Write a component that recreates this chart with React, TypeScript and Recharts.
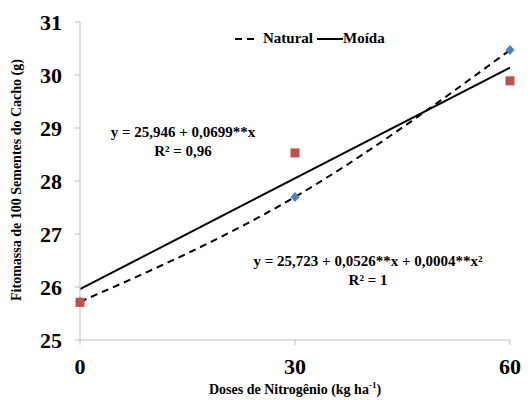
import React from 'react';
import { ComposedChart, Line, XAxis, YAxis } from 'recharts';

const doses = [0, 30, 60];
const natural = [25.72, 27.7, 30.47];
const moida = [25.71, 28.53, 29.89];
const moidaFit = [25.96, null, 30.14];
const xTicks = [0, 30, 60];
const yTicks = [25, 26, 27, 28, 29, 30, 31];

const data = doses.map((d, i) => ({
    dose: d,
    natural: natural[i],
    moida: moida[i],
    moidaFit: moidaFit[i],
}));

const FONT = '"Liberation Serif", "Times New Roman", serif';
const axisColor = '#bfbfbf';

const Diamond = (props: any) => {
    const { cx, cy, index } = props;
    if (cx == null || cy == null) return <g key={`d-${index}`} />;
    return (
        <path
            key={`d-${index}`}
            d={`M${cx},${cy - 5} L${cx + 4.5},${cy} L${cx},${cy + 5} L${cx - 4.5},${cy} Z`}
            fill="#4F81BD"
        />
    );
};

const Square = (props: any) => {
    const { cx, cy, index } = props;
    if (cx == null || cy == null) return <g key={`s-${index}`} />;
    return <rect key={`s-${index}`} x={cx - 4.5} y={cy - 4.5} width={9} height={9} fill="#C0504D" />;
};

const eqStyle: React.CSSProperties = {
    position: 'absolute',
    fontFamily: FONT,
    fontWeight: 'bold',
    fontSize: 15,
    color: '#000',
    textAlign: 'center',
    lineHeight: '19px',
    whiteSpace: 'nowrap',
    transform: 'translateX(-50%)',
};

const App: React.FC = () => {
    return (
        <div style={{ position: 'absolute', left: 0, top: 0, width: 531, height: 400, background: '#fff' }}>
            <ComposedChart
                width={531}
                height={400}
                data={data}
                margin={{ top: 22, right: 21, bottom: 10, left: 10 }}
            >
                <XAxis
                    dataKey="dose"
                    type="number"
                    domain={[0, 60]}
                    ticks={xTicks}
                    height={50}
                    stroke={axisColor}
                    tickSize={5}
                    tickMargin={13}
                    tick={{ fill: '#000', fontSize: 22, fontWeight: 'bold', fontFamily: FONT }}
                />
                <YAxis
                    type="number"
                    domain={[25, 31]}
                    ticks={yTicks}
                    width={70}
                    stroke={axisColor}
                    tickSize={5}
                    tickMargin={13}
                    tick={{ fill: '#000', fontSize: 22, fontWeight: 'bold', fontFamily: FONT }}
                />
                <Line
                    dataKey="moidaFit"
                    type="linear"
                    stroke="#000"
                    strokeWidth={2}
                    dot={false}
                    connectNulls
                    isAnimationActive={false}
                />
                <Line
                    dataKey="natural"
                    type="natural"
                    stroke="#000"
                    strokeWidth={2}
                    strokeDasharray="7 5"
                    dot={Diamond}
                    activeDot={false}
                    isAnimationActive={false}
                />
                <Line
                    dataKey="moida"
                    stroke="none"
                    dot={Square}
                    activeDot={false}
                    isAnimationActive={false}
                />
            </ComposedChart>

            {/* legend */}
            <div
                style={{
                    position: 'absolute',
                    left: 235,
                    top: 30,
                    display: 'flex',
                    alignItems: 'center',
                    fontFamily: FONT,
                    fontWeight: 'bold',
                    fontSize: 15,
                }}
            >
                <svg width={22} height={10}>
                    <line x1={0} y1={5} x2={22} y2={5} stroke="#000" strokeWidth={2} strokeDasharray="7 5" />
                </svg>
                <span style={{ marginLeft: 6 }}>Natural</span>
                <svg width={26} height={10} style={{ marginLeft: 4 }}>
                    <line x1={0} y1={5} x2={26} y2={5} stroke="#000" strokeWidth={2} />
                </svg>
                <span>Moída</span>
            </div>

            {/* equations */}
            <div style={{ ...eqStyle, left: 183, top: 123 }}>
                y = 25,946 + 0,0699**x
                <br />
                R² = 0,96
            </div>
            <div style={{ ...eqStyle, left: 368, top: 252 }}>
                y = 25,723 + 0,0526**x + 0,0004**x²
                <br />
                R² = 1
            </div>

            {/* axis titles */}
            <div
                style={{
                    position: 'absolute',
                    left: 295,
                    top: 380,
                    transform: 'translateX(-50%)',
                    fontFamily: FONT,
                    fontWeight: 'bold',
                    fontSize: 14,
                    whiteSpace: 'nowrap',
                }}
            >
                Doses de Nitrogênio (kg ha<sup style={{ fontSize: 9 }}>-1</sup>)
            </div>
            <div
                style={{
                    position: 'absolute',
                    left: 17,
                    top: 180,
                    transform: 'translate(-50%, -50%) rotate(-90deg)',
                    fontFamily: FONT,
                    fontWeight: 'bold',
                    fontSize: 14,
                    whiteSpace: 'nowrap',
                }}
            >
                Fitomassa de 100 Sementes do Cacho (g)
            </div>
        </div>
    );
};

export default App;
